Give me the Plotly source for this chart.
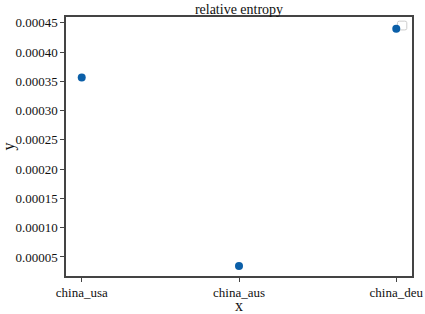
import plotly.graph_objects as go

categories = ["china_usa", "china_aus", "china_deu"]
values = [0.0003565, 0.0000345, 0.00044]
tick_vals = [0.00005, 0.0001, 0.00015, 0.0002, 0.00025, 0.0003, 0.00035, 0.0004, 0.00045]
tick_text = ["0.00005", "0.00010", "0.00015", "0.00020", "0.00025", "0.00030", "0.00035", "0.00040", "0.00045"]

fig = go.Figure()
fig.add_trace(go.Scatter(x=categories, y=values, mode="markers",
                         marker=dict(color="#0b5fa8", size=8), showlegend=False))

# small legend-like hollow square (decoration) near top-right corner
fig.add_shape(type="path", xref="paper", yref="paper",
              path="M 0.958 0.978 L 0.958 0.956 Q 0.958 0.950 0.964 0.950 L 0.979 0.950 "
                   "Q 0.985 0.950 0.985 0.956 L 0.985 0.978 Q 0.985 0.984 0.979 0.984 "
                   "L 0.964 0.984 Q 0.958 0.984 0.958 0.978 Z",
              line=dict(color="#cccccc", width=1), fillcolor="white", layer="below")

axis_common = dict(showline=True, linecolor="#444", linewidth=1.5, mirror=True,
                   ticks="outside", ticklen=4, tickcolor="#444", showgrid=False,
                   zeroline=False, automargin=False, tickfont=dict(size=13, color="#111"))
fig.update_layout(
    width=425, height=314,
    margin=dict(l=66, r=13, t=17, b=38),
    paper_bgcolor="white", plot_bgcolor="white",
    font=dict(family="Liberation Serif", size=13, color="#111"),
    showlegend=False,
    title=dict(text="relative entropy", x=0.5, xref="paper", xanchor="center",
               y=0.972, yref="container", yanchor="middle", font=dict(size=14)),
    xaxis=dict(title=dict(text="x", standoff=4), range=[-0.1, 2.1], **axis_common),
    yaxis=dict(title=dict(text="y", standoff=6), range=[0.0000175, 0.00046],
               tickvals=tick_vals, ticktext=tick_text, **axis_common),
)
fig.write_html("out.html", config={"displayModeBar": False},
               post_script="document.body.style.margin='0';document.body.style.overflow='hidden';")
